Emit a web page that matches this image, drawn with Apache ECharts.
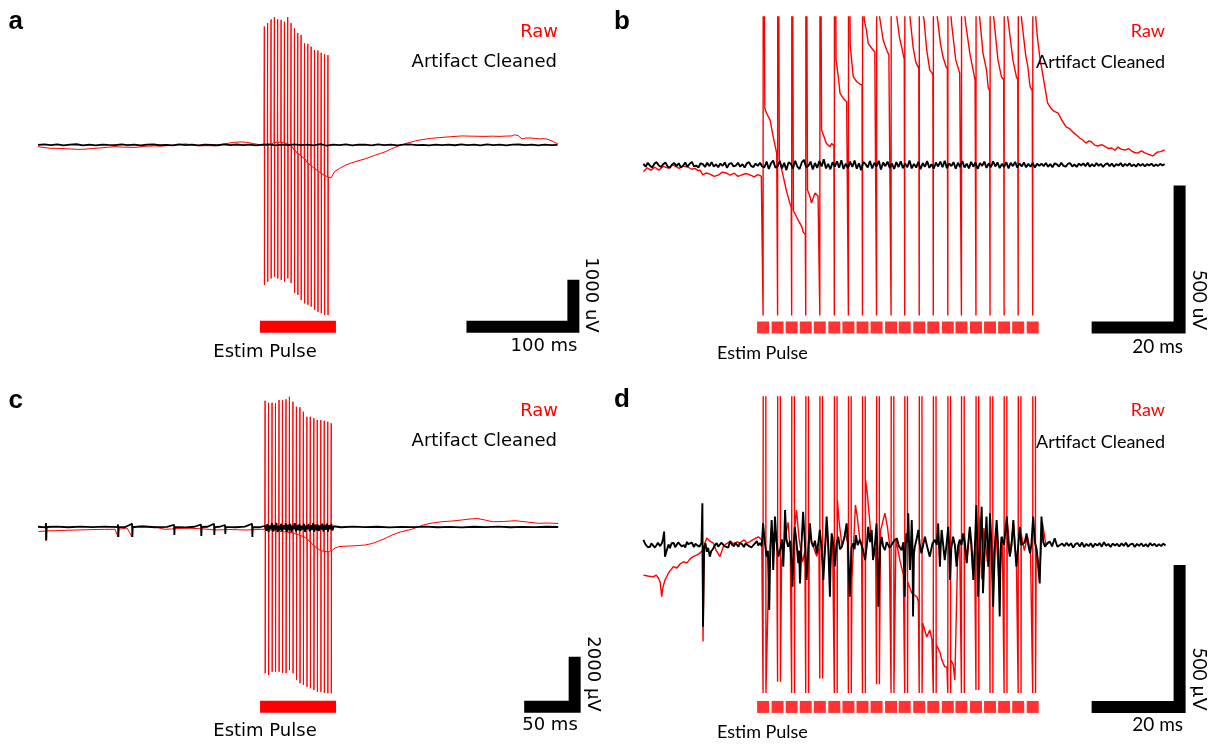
<!DOCTYPE html>
<html><head><meta charset="utf-8">
<script src="https://cdn.jsdelivr.net/npm/echarts/dist/echarts.min.js"></script>
<style>html,body{margin:0;padding:0;background:#fff}#c{width:1216px;height:745px}</style>
</head><body><div id="c"></div>
<script>
// ================= DATA (time in ms, voltage in uV) =================
// ---- Panel a ----
const pulseTimesA = [211.7,214.8,218.0,221.1,224.2,227.4,230.5,233.6,236.7,239.9,243.0,246.1,249.3,252.4,255.5,258.7,261.8,264.9,268.0,271.2];
const spikeTopA = [2520,2590,2670,2720,2670,2660,2620,2720,2590,2480,2380,2340,2160,2150,2090,2020,2010,1960,1930,1910];
const spikeBottomA = [-2980,-2910,-2840,-2800,-2840,-2870,-2910,-2840,-2940,-3150,-3190,-3300,-3370,-3400,-3440,-3510,-3550,-3580,-3620,-3620];
const stimBaseA = [-15,-10,20,50,60,55,40,20,-20,-106,-181,-234,-298,-383,-447,-500,-553,-606,-649,-681];
const rawDriftA = [[0,-36],[5,-55],[11.2,-70],[20,-75],[29.9,-85],[37,-95],[44,-91],[51,-75],[58,-64],[65,-50],[72,-36],[80,-48],[90.7,-53],[100,-30],[108.5,-21],[116,-25],[123.5,-11],[130,0],[137.5,21],[144,5],[151.5,-21],[158,-15],[165.6,-21],[172,10],[179.6,43],[184,55],[189,64],[194,58],[198.3,43],[202,25],[205.8,11],[209.5,-11],
  [274.1,-702],[277.4,-568],[282,-500],[288.1,-426],[296,-360],[305.9,-298],[315,-220],[324.6,-149],[330,-90],[334.9,-43],[340,0],[346.1,43],[353,85],[360.2,117],[368,140],[377.9,160],[386,175],[396.6,191],[405,186],[418.2,181],[425,186],[432.2,181],[438,188],[443.4,191],[445.5,215],[447.1,234],[449,200],[452.8,128],[456,145],[460.2,149],[465,138],[469.6,128],[473,135],[477.1,117],[482,70],[486.4,21]];
const cleanStepA = 6;
const cleanA = [0,10,-6,12,-8,4,14,-10,6,-12,8,0,-6,11,-5,7,-11,5,10,-7,3,-9,13,-4,6,-10,8,2,-7,10,-6,9,-3,6,-10,5,12,-8,4,-6,10,-5,7,-11,16,-14,8,-5,11,-10,6,4,-8,10,-6,7,-9,5,10,-6,3,-10,8,-4,6,-7,11,-5,6,-8,10,-3,7,-10,5,9,-6,4,-8,6,-5,3];
const stimWindowA = [207.6, 278.7];
const scaleTimeA = 100, scaleVoltA = 1000;

// ---- Panel c ----
const pulseTimesC = [225.0,228.4,231.9,235.3,238.8,242.2,245.7,249.1,252.6,256.0,259.5,262.9,266.4,269.8,273.3,276.7,280.2,283.6,287.1,290.5];
const spikeTopC = [5050,4970,4970,4950,5080,5080,5110,5210,5010,4810,4790,4610,4410,4410,4350,4280,4280,4250,4210,4150];
const spikeBottomC = [-5850,-5920,-5790,-5790,-5790,-5830,-5850,-5720,-5850,-6120,-6250,-6320,-6390,-6450,-6520,-6590,-6590,-6630,-6650,-6650];
const stimBaseC = [-92,-110,-130,-160,-170,-190,-205,-215,-235,-280,-330,-380,-470,-600,-740,-860,-940,-975,-990,-950];
const rawDriftC = [[0.5,-188],[4,-170],[7.5,-160],[7.9,-560],[8.3,-150],[15,-150],[21.8,-140],[30,-130],[38.7,-120],[47,-110],[56.5,-100],[66,-95],[76.3,-92],[79.3,-400],[79.7,-90],[84,-60],[88.2,-40],[93.2,-400],[93.6,-20],[99.6,40],[103,50],[107,40],[115,12],[120,-40],[125.9,-92],[132,-80],[138.7,-60],[145,-50],[152.6,-52],[159,-65],[165.5,-80],[170,-100],[175.4,-120],[183,-110],[190.3,-100],[198,-110],[206.1,-120],[212,-110],[218,-100],[222,-92],
  [294.3,-840],[297.8,-788],[303,-770],[309.2,-760],[316,-745],[324.1,-720],[331,-660],[336,-588],[343.9,-460],[350.8,-320],[358.8,-200],[370.2,-92],[381.6,80],[390.5,160],[400.4,212],[410.3,240],[419.7,280],[428.1,320],[435.1,340],[443,280],[450,212],[460.9,220],[472.7,252],[484.6,200],[496,148],[505.5,160],[515.4,140]];
const cleanC = [[0,10],[7.5,-15],[7.9,160],[8.2,-520],[8.6,0],[18,12],[30,-10],[42,15],[54,-8],[66,12],[78.9,-5],[79.3,100],[79.6,-400],[80,5],[86,-10],[93.2,130],[93.5,-400],[93.9,0],[104,12],[116,-10],[128,8],[134.8,90],[135.1,-320],[135.5,5],[146,-12],[155,10],[161.5,100],[161.8,-360],[162.2,0],[168,10],[174.4,130],[174.7,-320],[175.1,-5],[180,10],[185.3,80],[185.6,-280],[186,5],[196,-10],[205,12],[212.1,130],[212.4,-400],[212.8,0],[220,-10],
  [225,50],[226,-150],[227.2,110],[228.4,-200],[229.5,60],[230.6,-90],[231.8,150],[232.9,-180],[234,80],[235.2,-110],[236.3,160],[237.4,-200],[238.6,50],[239.7,-130],[240.8,120],[242,-170],[243.1,70],[244.2,-100],[245.4,150],[246.5,-190],[247.6,90],[248.8,-120],[249.9,130],[251,-200],[252.2,60],[253.3,-90],[254.4,150],[255.6,-180],[256.7,80],[257.8,-130],[259,110],[260.1,-160],[261.2,50],[262.4,-100],[263.5,130],[264.6,-200],[265.8,60],[266.9,-90],[268,120],[269.2,-170],[270.3,70],[271.4,-120],[272.6,150],[273.7,-190],[274.8,90],[276,-130],[277.1,100],[278.2,-160],[279.4,60],[280.5,-100],[281.6,130],[282.8,-180],[283.9,80],[285,-110],[286.2,130],[287.3,-180],[288.4,70],[289.6,-90],[290.7,110],[291.8,-140],[293,30],
  [300,-10],[312,12],[324,-8],[336,10],[348,-12],[360,8],[372,-6],[384,12],[396,-10],[408,8],[420,-12],[432,10],[444,-6],[456,12],[468,-10],[480,8],[492,-8],[504,10],[515.4,0]];
const stimWindowC = [220, 295.3];
const scaleTimeC = 50, scaleVoltC = 2000;

// ---- Panel b ----
const pulseTimesB = [27.3,30.6,33.8,37.0,40.2,43.5,46.7,49.9,53.1,56.4,59.5,62.8,66.0,69.3,72.4,75.7,78.9,82.1,85.3,88.6];
const pulseFloorB = -530;
const pulseCeilB = 1500;
const rawB = [[0.1,-24],[0.9,-10],[1.8,-18],[2.7,-8],[3.6,-18],[4.6,-5],[5.7,-11],[6.8,0],[8.2,-12],[9.1,-4],[10.2,-7],[11,-15],[11.8,-12],[12.5,-20],[13,-18],[13.6,-35],[14.4,-28],[15.2,-32],[16.2,-40],[17.2,-35],[18,-25],[18.9,-28],[19.8,-36],[20.7,-29],[21.6,-40],[22.5,-35],[23.4,-30],[24.3,-35],[25.3,-42],[26.1,-34],[26.9,-39],
  [27.7,200],[28.1,182],[28.9,158],[29.6,100],[30.4,41],[30.5,38],
  [31.0,20],[31.9,-41],[32.6,-90],[33.4,-135],[33.7,-150],
  [34.2,-160],[34.9,-182],[35.5,-200],[36.1,-217],[36.4,-235],[36.9,-245],
  [37.4,-88],[38,-113],[38.3,-134],[39.1,-99],[39.8,-109],[40.1,-112],
  [40.6,123],[41.1,102],[41.7,76],[42.5,64],[42.9,76],[43.2,70],[43.4,68],
  [43.9,370],[44.4,311],[44.8,252],[45.5,235],[46.3,223],[46.6,220],
  [47.1,422],[47.8,311],[48.6,293],[49.3,285],[49.8,282],
  [50.3,510],[50.8,475],[51.2,428],[52,411],[52.7,398],[53.0,395],
  [53.6,540],[53.9,510],[54.6,440],[55.4,405],[55.9,387],[56.3,380],
  [56.9,560],[57.7,522],[58.3,450],[58.8,416],[59.4,372],
  [60,560],[60.7,522],[61.4,416],[62,363],[62.7,340],
  [63.3,560],[63.9,510],[64.5,405],[65.2,334],[65.9,320],
  [66.5,560],[67,510],[67.6,430],[68.2,381],[68.9,346],[69.2,338],
  [69.8,560],[70.2,493],[71.1,370],[72,324],[72.3,318],
  [72.9,560],[73.4,493],[74.3,394],[75.5,299],[75.6,295],
  [76.2,560],[76.6,510],[77.3,394],[78.1,334],[78.5,271],[78.8,262],
  [79.4,560],[79.8,510],[80.7,370],[81.5,310],[82,300],
  [82.6,560],[83,510],[84.1,370],[84.9,310],[85.2,300],
  [85.8,560],[86.1,510],[87,387],[87.5,346],[88,276],[88.5,262],
  [89.1,560],[89.6,460],[90.2,381],[90.9,317],[92,218],[92.7,201],[93.4,190],[94.4,183],[95.2,158],[96.2,134],[97,128],[97.95,113],[98.6,105],[99.3,95],[100,88],[100.7,77],[101.4,85],[102,81],[102.7,70],[103.4,67],[104.3,72],[105.2,64],[105.9,58],[106.6,60],[107.3,52],[108,63],[108.8,55],[109.7,53],[110.4,58],[111.1,49],[111.8,44],[112.5,42],[113.3,50],[114.2,42],[114.8,38],[115.2,35],[115.9,32],[116.5,40],[117.05,46],[117.7,47],[118.6,53]];
const cleanStartB = 0.1, cleanStepB = 0.5;
const cleanB = [4,-6,8,-3,-9,5,10,-2,-7,3,9,-5,-10,2,7,-4,6,-8,-3,9,
  -6,4,11,-5,-2,-9,6,3,-7,8,-4,10,-6,2,-8,5,-3,9,-10,4,
  7,-5,-2,8,-6,3,-9,6,10,-4,-7,5,-3,8,-5,
  -8,12,-14,6,16,-10,-4,14,-12,8,-18,10,4,-12,15,-6,-14,9,18,-8,
  -3,12,-16,7,-10,14,-5,20,-12,4,-15,10,-6,13,-9,17,-14,5,-11,12,
  -7,16,-13,6,-18,11,3,-9,14,-12,8,-5,15,-16,9,-4,12,-10,6,-14,
  10,-7,13,-11,5,-8,16,-12,4,-9,11,-15,7,-6,14,-10,3,-13,9,-5,
  12,-8,15,-11,6,-4,10,-13,8,-7,14,-9,5,-12,11,-6,9,-14,7,-3,
  12,-10,6,-8,13,-5,9,-11,4,-7,10,-12,8,-4,11,-9,6,-5,9,-8,
  4,-6,7,-9,5,-3,
  5,-4,7,-6,3,-8,6,2,-5,8,-3,-6,4,7,-5,2,-7,5,-2,6,
  -4,8,-6,3,-5,7,-3,4,-7,2,6,-4,5,-6,3,-2,7,-5,4,-3,
  6,-4,2,-6,5,-3,4,-5,3,-2,5,-4,2,-3,4,-2,3];
const scaleTimeB = 20, scaleVoltB = 500;

// ---- Panel d ----
const pulseTimesD = [27.3,30.6,33.8,37.0,40.2,43.5,46.7,49.9,53.1,56.4,59.5,62.8,66.0,69.3,72.4,75.7,78.9,82.1,85.3,88.6];
const pulseFloorD = [-521,-481,-521,-521,-470,-521,-521,-521,-490,-521,-521,-521,-521,-521,-521,-510,-521,-521,-521,-521];
const pulseCeilD = 1500;
const rawD = [[0.1,-106],[1.1,-109],[2.3,-112],[3,-106],[3.5,-116],[3.9,-130],[4.25,-182],[4.5,-151],[5,-123],[5.7,-102],[6.1,-92],[6.9,-76],[7.7,-81],[8.4,-67],[9.2,-59],[10,-63],[10.7,-49],[11.4,-41],[12.3,-35],[13,-28],[13.5,-18],[13.65,-340],[13.9,0],[14.5,25],[15.2,14],[16,7],[16.6,-18],[17.5,-41],[18.25,-6],[18.9,4],[19.8,12],[20.7,4],[21.4,11],[22,7],[23,18],[23.6,7],[24.3,12],[25.2,21],[26.2,29],[26.6,25],[27,18],
  [28.5,-150],[29.2,60],[30.0,20],[30.4,10],
  [31.5,-60],[32.5,40],[33.0,80],[33.5,-30],
  [34.5,60],[34.9,123],[35.5,20],[36.3,-60],[36.8,-20],
  [37.8,40],[38.6,0],[39.5,-40],[40,-10],
  [41,-90],[41.8,60],[42.5,-100],[43.1,30],
  [44.2,158],[44.6,80],[45.2,0],[46,40],[46.5,10],
  [47.5,-120],[48.3,141],[48.7,100],[49.3,20],[49.7,0],
  [50.6,229],[51,180],[51.8,40],[52.5,-40],[52.9,-10],
  [54,50],[55,112],[55.6,60],[56,10],
  [57.5,20],[58.4,-53],[59.2,-106],
  [60.2,-130],[61.1,-169],[62.3,-183],[62.6,-200],
  [63.6,-275],[64.5,-324],[65.2,-299],[65.7,-334],
  [66.7,-352],[67.5,-377],[67.95,-405],[68.6,-429],[69.1,-429],
  [70,-405],[70.5,-419],[70.9,-475],[71.5,-60],[72,20],
  [73.1,40],[73.6,-60],[74.3,60],[75,-100],[75.4,-20],
  [76.4,100],[77,-120],[77.5,60],[78.3,-60],[78.7,-20],
  [79.6,-100],[80.2,60],[81,-150],[81.7,30],
  [82.8,90],[83.5,-30],[84.2,80],[84.9,-60],
  [86,40],[86.7,-20],[87.4,30],[88.1,-20],
  [89.4,0],[90.2,-100],[90.8,80],[91.6,0],[92.5,10]];
const cleanDPairs = [[0.1,18],[0.5,4],[0.7,7],[1.1,-8],[1.6,-6],[1.9,6],[2.3,4],[2.7,-9],[3.1,0],[3.4,8],[3.6,11],[3.9,-4],[4.3,7],[4.55,20],[4.8,47],[5,-41],[5.2,-30],[5.5,-14],[5.8,2],[6.1,-11],[6.5,6],[7,7],[7.3,-8],[7.7,-4],[8,9],[8.4,12],[8.8,-5],[9.3,0],[9.6,-9],[10,11],[10.3,3],[10.7,0],[11.1,8],[11.6,-7],[11.9,4],[12.3,7],[12.8,-6],[13.3,7],[13.5,147],[13.65,-288],[13.9,-11],[14.2,6],[14.5,-24],[14.8,-10],[15.2,-41],[15.5,-22],[15.9,-14],[16.3,-2],[16.75,7],[17.1,-6],[17.5,-4],[17.8,8],[18.2,11],[18.6,-5],[19,0],[19.4,-9],[19.8,14],[20.2,2],[20.7,-4],[21,8],[21.4,7],[21.7,-6],[22,7],[22.5,3],[22.95,-7],[23.3,5],[23.6,11],[24,-3],[24.3,4],[24.7,-8],[25.1,0],[25.5,6],[25.9,14],[26.2,-2],[26.6,7],[27,-4],
  [27.3,76],[27.7,10],[28.1,-41],[28.4,-20],[28.7,-229],[28.95,-10],[29.25,88],[29.45,20],[29.6,-88],[29.8,-10],[30,100],[30.35,15],[30.75,-41],[31.3,-10],[31.6,20],[31.9,-76],[32.1,10],[32.3,123],[32.6,20],[33,-6],[33.5,15],[34,-147],[34.25,0],[34.5,64],[34.9,10],[35.3,-64],[35.5,-20],[35.7,-135],[36,-10],[36.4,117],[36.8,10],[37.2,-123],[37.6,-5],[37.95,76],[38.3,10],[38.7,-6],[39.1,15],[39.5,-29],[39.8,0],[40.2,53],[40.6,-10],[41,-123],[41.4,-5],[41.75,100],[42.1,10],[42.5,-182],[42.7,-20],[42.9,41],[43.25,0],[43.6,-76],[44,5],[44.4,29],[44.8,-15],[45.2,-6],[45.7,20],[46.3,76],[46.6,0],[47,-182],[47.4,-10],[47.8,6],[48.1,-15],[48.4,35],[48.8,0],[49.3,18],[49.9,-10],[50.5,-53],[50.9,0],[51.2,64],[51.6,10],[52,53],[52.15,0],[52.3,-53],[52.7,-5],[53.1,76],[53.3,-20],[53.5,-217],[53.9,-10],[54.25,29],[54.6,-5],[55,-18],[55.4,10],[55.75,6],[56.1,-10],[56.5,-6],[57.1,15],[57.7,24],[58.2,-5],[58.8,-18],[59.2,10],[59.5,-182],[59.7,-20],[59.9,41],[60.1,10],[60.3,112],[60.5,0],[60.7,-88],[60.9,-10],[61.1,88],[61.25,10],[61.4,-252],[61.6,-30],[61.8,-6],[62.2,20],[62.6,53],[62.9,5],[63.3,-29],[63.7,0],[64.1,29],[64.6,-5],[65.2,-41],[65.8,5],[66.4,18],[66.8,0],[67.1,76],[67.3,0],[67.5,-76],[67.7,0],[67.9,53],[68.25,0],[68.6,-53],[69,0],[69.4,64],[69.6,0],[69.8,-123],[70.1,-10],[70.5,29],[70.9,0],[71.3,-76],[71.6,-5],[72,18],[72.4,0],[72.8,41],[73.2,0],[73.6,-64],[73.9,-5],[74.3,64],[74.7,0],[75.1,-123],[75.45,-10],[75.8,141],[76,10],[76.2,-182],[76.6,0],[77,135],[77.15,10],[77.3,-170],[77.7,-10],[78.1,100],[78.3,10],[78.5,-76],[78.7,0],[78.9,112],[79.2,10],[79.6,-217],[80,-10],[80.4,88],[80.7,10],[81.1,-252],[81.3,-20],[81.5,29],[82.1,0],[82.7,100],[83,10],[83.4,-41],[83.8,0],[84.2,88],[84.5,5],[84.9,-76],[85.3,-5],[85.7,64],[86,0],[86.4,-6],[86.8,10],[87.2,41],[87.6,0],[88,-29],[88.3,0],[88.7,100],[89.1,10],[89.5,-18],[89.85,-20],[90.2,-135],[90.4,-10],[90.6,100],[91,10],[91.4,-6],[92,8],[92.5,12],[93,-5],[93.6,24],[94.2,-6],[94.8,0]];
const cleanDTailStart = 95.3, cleanDTailStep = 0.5;
const cleanDTail = [5,-4,8,-3,6,-9,3,7,-5,9,-7,4,-4,6,-8,5,-2,7,-6,10,-3,4,-7,5,-2,4,
  -5,6,-3,8,-6,2,5,-7,4,-3,6,-5,3,-6,7,-2,4,-5,3,-4,5,-2];
const scaleTimeD = 20, scaleVoltD = 500;

// ================= LAYOUT =================
const L = {
  a:{grid:{left:38,top:10,width:542,height:330}, x:[0,507], y:[-4150,2870], corner:[500.8,-3870], stimRow:-3870},
  b:{grid:{left:643,top:17,width:541,height:323}, x:[0,123], y:[-616,521], corner:[122.0,-572], stimRow:-572},
  c:{grid:{left:38,top:390,width:542,height:330}, x:[0,537], y:[-7720,5480], corner:[531.7,-7190], stimRow:-7190},
  d:{grid:{left:643,top:397,width:541,height:323}, x:[0,123], y:[-616,521], corner:[122.0,-570], stimRow:-570}
};
const RED = '#ff0000';

// ================= BUILD =================
function spikeTrain(drift, times, tops, bottoms, bases){
  const pts = drift.slice();
  times.forEach((t,i)=>{ pts.push([t-0.3,bases[i]],[t,tops[i]],[t+0.1,bottoms[i]],[t+0.4,bases[i]]); });
  return pts.sort((p,q)=>p[0]-q[0]);
}
function pulseTrainB(raw, times, floor, ceil){
  const pts = raw.slice();
  times.forEach(t=>{ pts.push([t,floor],[t+0.05,ceil],[t+0.3,ceil]); });
  return pts.sort((p,q)=>p[0]-q[0]);
}
function pulseTrainD(raw, times, floors, ceil){
  const pts = raw.slice();
  times.forEach((t,i)=>{ pts.push([t,floors[i]],[t+0.05,ceil],[t+0.6,ceil],[t+0.65,floors[i]]); });
  return pts.sort((p,q)=>p[0]-q[0]);
}
const sampled = (vals, t0, dt) => vals.map((v,i)=>[t0+i*dt, v]);

const rawSeriesA = spikeTrain(rawDriftA, pulseTimesA, spikeTopA, spikeBottomA, stimBaseA);
const rawSeriesC = spikeTrain(rawDriftC, pulseTimesC, spikeTopC, spikeBottomC, stimBaseC);
const rawSeriesB = pulseTrainB(rawB, pulseTimesB, pulseFloorB, pulseCeilB);
const rawSeriesD = pulseTrainD(rawD, pulseTimesD, pulseFloorD, pulseCeilD);
const cleanSeriesA = sampled(cleanA, 0, cleanStepA);
const cleanSeriesB = sampled(cleanB, cleanStartB, cleanStepB);
const cleanSeriesD = cleanDPairs.concat(sampled(cleanDTail, cleanDTailStart, cleanDTailStep));

const keys = ['a','b','c','d'];
const grids = [], xAxes = [], yAxes = [], series = [];
keys.forEach((k,i)=>{
  grids.push(Object.assign({containLabel:false, outerBoundsMode:'none'}, L[k].grid));
  xAxes.push({type:'value', gridIndex:i, min:L[k].x[0], max:L[k].x[1], show:false});
  yAxes.push({type:'value', gridIndex:i, min:L[k].y[0], max:L[k].y[1], show:false});
});
function line(idx, data, color, width, extra){
  series.push(Object.assign({type:'line', xAxisIndex:idx, yAxisIndex:idx, data, symbol:'none', showSymbol:false, silent:true, animation:false,
    lineStyle:{color, width}, itemStyle:{color}}, extra||{}));
}
const raws = {a:rawSeriesA, b:rawSeriesB, c:rawSeriesC, d:rawSeriesD};
const cleans = {a:cleanSeriesA, b:cleanSeriesB, c:cleanC, d:cleanSeriesD};
const scales = {a:[scaleTimeA,scaleVoltA], b:[scaleTimeB,scaleVoltB], c:[scaleTimeC,scaleVoltC], d:[scaleTimeD,scaleVoltD]};
keys.forEach((k,i)=>{
  const thin = (k==='a'||k==='c');
  line(i, raws[k], RED, thin?1:1.4, {z:2});
  line(i, cleans[k], '#000', thin?1.8:1.9, {z:3});
  const c = L[k].corner, s = scales[k];
  line(i, [[c[0]-s[0], c[1]], c, [c[0], c[1]+s[1]]], '#000', 12, {z:4, clip:false, lineStyle:{color:'#000', width:12, join:'miter', cap:'butt'}});
});
// stimulus markers
line(0, [[stimWindowA[0], L.a.stimRow],[stimWindowA[1], L.a.stimRow]], RED, 12, {z:4, clip:false});
line(2, [[stimWindowC[0], L.c.stimRow],[stimWindowC[1], L.c.stimRow]], RED, 12, {z:4, clip:false});
[['b',1,pulseTimesB],['d',3,pulseTimesD]].forEach(([k,i,times])=>{
  series.push({type:'scatter', xAxisIndex:i, yAxisIndex:i, silent:true, animation:false, symbol:'rect', symbolSize:[12,12],
    itemStyle:{color:RED}, data: times.map(t=>[t, L[k].stimRow]), z:4});
});

// ================= TEXT =================
const FA = '18px "DejaVu Sans"', FB = '18px Lato', FL = 'bold 26px "Liberation Sans"';
function T(x, y, text, font, align, fill, rot){
  const e = {type:'text', x, y, silent:true, z:100, style:{text, font, fill:fill||'#000', align:align||'left', verticalAlign:'middle'}};
  if (rot !== undefined) e.rotation = rot;
  return e;
}
const R = -Math.PI/2;
const graphic = [
  T(8.5,22,'a',FL), T(614,22,'b',FL), T(8.5,400.5,'c',FL), T(614,400,'d',FL),
  T(558,32.7,'Raw',FA,'right',RED), T(557,62.7,'Artifact Cleaned',FA,'right'),
  T(265,352.7,'Estim Pulse',FA,'center'), T(544,346.7,'100 ms',FA,'center'), T(591,295,'1000 uV',FA,'center','#000',R),
  T(558,411.7,'Raw',FA,'right',RED), T(557,441.7,'Artifact Cleaned',FA,'right'),
  T(265,731.7,'Estim Pulse',FA,'center'), T(550,725.7,'50 ms',FA,'center'), T(593,674,'2000 µV',FA,'center','#000',R),
  T(1165,31,'Raw',FB,'right',RED), T(1165,62,'Artifact Cleaned',FB,'right'),
  T(717,353,'Estim Pulse',FB,'left'), T(1183,347,'20 ms','19px Lato','right'), T(1199,300,'500 uV','19px Lato','center','#000',R),
  T(1165,410,'Raw',FB,'right',RED), T(1165,442,'Artifact Cleaned',FB,'right'),
  T(717,732,'Estim Pulse',FB,'left'), T(1183,725,'20 ms','19px Lato','right'), T(1199,679,'500 µV','19px Lato','center','#000',R)
];

const chart = echarts.init(document.getElementById('c'), null, {renderer:'canvas'});
chart.setOption({animation:false, backgroundColor:'#fff', grid:grids, xAxis:xAxes, yAxis:yAxes, series, graphic});
</script></body></html>
